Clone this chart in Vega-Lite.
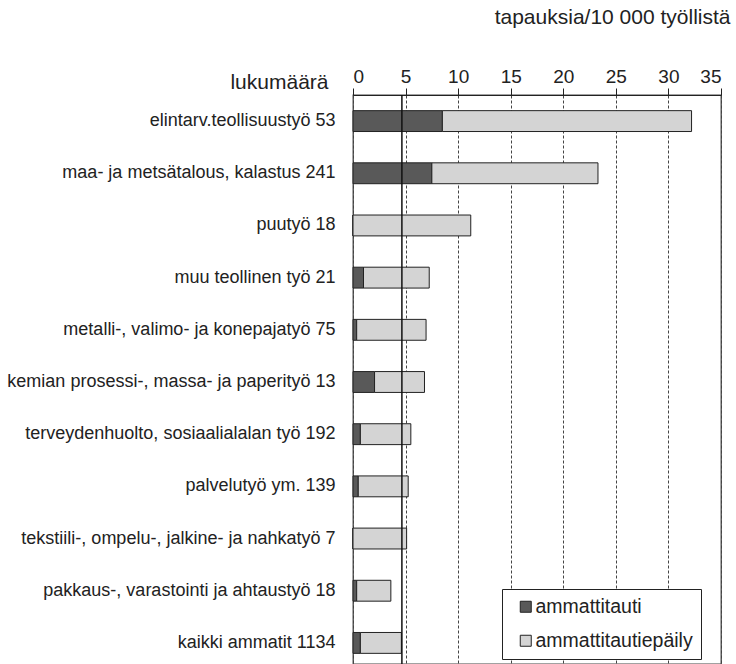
{
  "$schema": "https://vega.github.io/schema/vega-lite/v6.json",
  "autosize": {"type": "none"},
  "padding": {"left": 353, "top": 95, "right": 15, "bottom": 0},
  "width": 368,
  "height": 569,
  "config": {
    "font": "Liberation Sans",
    "view": {"stroke": "#444", "strokeWidth": 1.3},
    "background": "white"
  },
  "datasets": {
    "bars": [
      {"ammatti": "elintarv.teollisuustyö 53", "tyyppi": "ammattitauti", "jarj": 1, "arvo": 8.5},
      {"ammatti": "elintarv.teollisuustyö 53", "tyyppi": "ammattitautiepäily", "jarj": 2, "arvo": 23.7},
      {"ammatti": "maa- ja metsätalous, kalastus 241", "tyyppi": "ammattitauti", "jarj": 1, "arvo": 7.5},
      {"ammatti": "maa- ja metsätalous, kalastus 241", "tyyppi": "ammattitautiepäily", "jarj": 2, "arvo": 15.8},
      {"ammatti": "puutyö 18", "tyyppi": "ammattitauti", "jarj": 1, "arvo": 0},
      {"ammatti": "puutyö 18", "tyyppi": "ammattitautiepäily", "jarj": 2, "arvo": 11.2},
      {"ammatti": "muu teollinen työ 21", "tyyppi": "ammattitauti", "jarj": 1, "arvo": 1.0},
      {"ammatti": "muu teollinen työ 21", "tyyppi": "ammattitautiepäily", "jarj": 2, "arvo": 6.25},
      {"ammatti": "metalli-, valimo- ja konepajatyö 75", "tyyppi": "ammattitauti", "jarj": 1, "arvo": 0.35},
      {"ammatti": "metalli-, valimo- ja konepajatyö 75", "tyyppi": "ammattitautiepäily", "jarj": 2, "arvo": 6.6},
      {"ammatti": "kemian prosessi-, massa- ja paperityö 13", "tyyppi": "ammattitauti", "jarj": 1, "arvo": 2.05},
      {"ammatti": "kemian prosessi-, massa- ja paperityö 13", "tyyppi": "ammattitautiepäily", "jarj": 2, "arvo": 4.75},
      {"ammatti": "terveydenhuolto, sosiaalialalan työ 192", "tyyppi": "ammattitauti", "jarj": 1, "arvo": 0.7},
      {"ammatti": "terveydenhuolto, sosiaalialalan työ 192", "tyyppi": "ammattitautiepäily", "jarj": 2, "arvo": 4.8},
      {"ammatti": "palvelutyö ym. 139", "tyyppi": "ammattitauti", "jarj": 1, "arvo": 0.5},
      {"ammatti": "palvelutyö ym. 139", "tyyppi": "ammattitautiepäily", "jarj": 2, "arvo": 4.75},
      {"ammatti": "tekstiili-, ompelu-, jalkine- ja nahkatyö 7", "tyyppi": "ammattitauti", "jarj": 1, "arvo": 0},
      {"ammatti": "tekstiili-, ompelu-, jalkine- ja nahkatyö 7", "tyyppi": "ammattitautiepäily", "jarj": 2, "arvo": 5.1},
      {"ammatti": "pakkaus-, varastointi ja ahtaustyö 18", "tyyppi": "ammattitauti", "jarj": 1, "arvo": 0.35},
      {"ammatti": "pakkaus-, varastointi ja ahtaustyö 18", "tyyppi": "ammattitautiepäily", "jarj": 2, "arvo": 3.25},
      {"ammatti": "kaikki ammatit  1134", "tyyppi": "ammattitauti", "jarj": 1, "arvo": 0.7},
      {"ammatti": "kaikki ammatit  1134", "tyyppi": "ammattitautiepäily", "jarj": 2, "arvo": 3.9}
    ],
    "keskiarvo": [{"arvo": 4.65}]
  },
  "layer": [
    {
      "data": {"name": "bars"},
      "mark": {"type": "bar", "stroke": "#222", "strokeWidth": 1},
      "encoding": {
        "y": {
          "field": "ammatti",
          "type": "nominal",
          "sort": null,
          "scale": {"range": [0, 574], "paddingInner": 0.6, "paddingOuter": 0.3},
          "axis": {
            "title": "lukumäärä",
            "titleAngle": 0,
            "titleAlign": "right",
            "titleBaseline": "alphabetic",
            "titleX": -25,
            "titleY": -7,
            "titleFontSize": 21,
            "titleFontWeight": "normal",
            "titleColor": "#222",
            "labelFontSize": 18,
            "labelColor": "#222",
            "labelPadding": 18,
            "ticks": false,
            "tickSize": 0,
            "domain": false,
            "labelLimit": 400
          }
        },
        "x": {
          "field": "arvo",
          "type": "quantitative",
          "stack": "zero",
          "scale": {"domain": [0, 35], "nice": false},
          "axis": {
            "orient": "top",
            "values": [0, 5, 10, 15, 20, 25, 30, 35],
            "title": "tapauksia/10 000 työllistä",
            "titleAnchor": "end",
            "titleAlign": "right",
            "titleBaseline": "alphabetic",
            "titleX": 377,
            "titleY": -72,
            "titleFontSize": 21,
            "titleFontWeight": "normal",
            "titleColor": "#222",
            "labelFontSize": 19,
            "labelColor": "#222",
            "labelPadding": 2,
            "tickSize": 7,
            "tickColor": "#222",
            "domainColor": "#222",
            "grid": true,
            "gridColor": "#444",
            "gridDash": [3, 2],
            "gridWidth": 1
          }
        },
        "color": {
          "field": "tyyppi",
          "type": "nominal",
          "scale": {"domain": ["ammattitauti", "ammattitautiepäily"], "range": ["#595959", "#d4d4d4"]},
          "legend": {
            "title": null,
            "orient": "none",
            "legendX": 149,
            "legendY": 494,
            "strokeColor": "#222",
            "fillColor": "white",
            "padding": 8,
            "symbolType": "square",
            "symbolSize": 121,
            "symbolStrokeColor": "#222",
            "symbolStrokeWidth": 1,
            "symbolOpacity": 1,
            "symbolOffset": 6,
            "labelFontSize": 19.5,
            "labelColor": "#222",
            "labelOffset": 0,
            "rowPadding": 13
          }
        },
        "order": {"field": "jarj", "type": "quantitative"}
      }
    },
    {
      "data": {"name": "keskiarvo"},
      "mark": {"type": "rule", "color": "#111", "strokeWidth": 1.5},
      "encoding": {
        "x": {"field": "arvo", "type": "quantitative"}
      }
    }
  ]
}
